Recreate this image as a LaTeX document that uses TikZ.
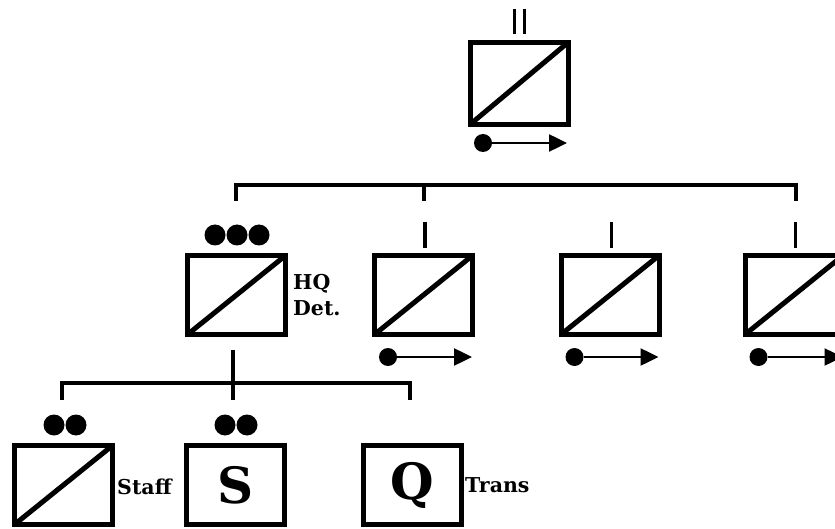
\documentclass[tikz,border=0pt]{standalone}
\usepackage{fontspec}
\setmainfont{DejaVu Serif}
\usetikzlibrary{arrows.meta}
\begin{document}
\begin{tikzpicture}[x=1pt,y=-1pt,
 unitbox/.style={draw,line width=5pt,minimum width=98pt,minimum height=79pt,inner sep=0pt,outer sep=0pt},
 diag/.style={line width=5pt},
 dot/.style={circle,fill,inner sep=0pt,minimum size=21pt},
 smalldot/.style={circle,fill,inner sep=0pt,minimum size=18pt},
 link/.style={line width=4.5pt},
 bar/.style={line width=3.5pt},
 mv/.style={line width=2.5pt,-{Triangle[length=18pt,width=17pt]}},
 lbl/.style={font=\bfseries\fontsize{20.5}{26}\selectfont,inner sep=0pt,align=left,anchor=west},
 big/.style={font=\bfseries\fontsize{50}{50}\selectfont,inner sep=0pt}]
\useasboundingbox (0,0) rectangle (835,529);

% top unit
\node[unitbox,minimum height=82pt] (top) at (519,83.5) {};
\draw[diag] (top.south west) -- (top.north east);
\coordinate (tb1a) at (514.5,9); \coordinate (tb1b) at (514.5,34);
\coordinate (tb2a) at (524.5,9); \coordinate (tb2b) at (524.5,34);
\draw[bar] (tb1a) -- (tb1b);
\draw[bar] (tb2a) -- (tb2b);
\node[smalldot] (topc) at (483,143) {};
\coordinate (topt) at (567,143);
\draw[mv] (topc) -- (topt);

% bracket 1
\coordinate (k1a) at (236,201);
\coordinate (k1b) at (796,201);
\coordinate (k1m) at (424,185);
\coordinate (k1n) at (424,201);
\draw[link] (k1a) -- (236,185) -- (796,185) -- (k1b);
\draw[link] (k1m) -- (k1n);

% row 2
\node[unitbox] (hq) at (236.5,295) {};
\draw[diag] (hq.south west) -- (hq.north east);
\node[dot] (hqd1) at (215,235) {};
\node[dot] (hqd2) at (237,235) {};
\node[dot] (hqd3) at (259,235) {};
\node[lbl] (hql) at (293,295) {HQ\\Det.};

\foreach \n/\x in {u2/423.5,u3/610,u4/794}{
  \node[unitbox] (\n) at (\x,295) {};
  \draw[diag] (\n.south west) -- (\n.north east);
  \coordinate (\n ba) at (\x+1.5,222);
  \coordinate (\n bb) at (\x+1.5,248);
  \draw[bar] (\n ba) -- (\n bb);
  \node[smalldot] (\n c) at (\x-35.5,357) {};
  \coordinate (\n t) at (\x+48.5,357);
  \draw[mv] (\n c) -- (\n t);
}

% bracket 2
\coordinate (k2s) at (233,350);
\coordinate (k2e) at (233,400);
\coordinate (k2a) at (62,400);
\coordinate (k2b) at (410,400);
\draw[link] (k2s) -- (k2e);
\draw[link] (k2a) -- (62,383) -- (410,383) -- (k2b);

% row 3
\node[unitbox] (staff) at (63.5,485) {};
\draw[diag] (staff.south west) -- (staff.north east);
\node[dot] (sd1) at (54,425) {};
\node[dot] (sd2) at (76,425) {};
\node[lbl] (staffl) at (117,487) {Staff};

\node[unitbox,big] (sup) at (235.5,485) {S};
\node[dot] (ud1) at (225,425) {};
\node[dot] (ud2) at (247,425) {};

\node[unitbox,big] (tr) at (412.5,485) {Q};
\node[lbl] (trl) at (465,485) {Trans};
\end{tikzpicture}
\end{document}
